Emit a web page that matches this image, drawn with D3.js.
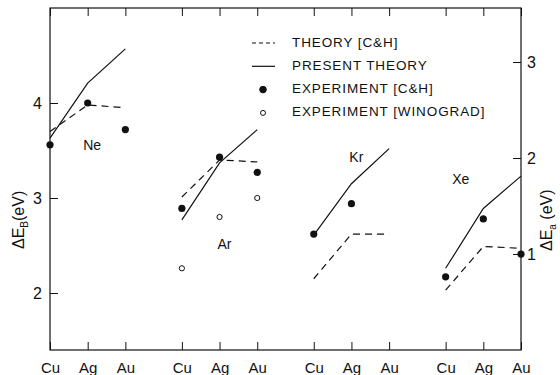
<!DOCTYPE html>
<html>
<head>
<meta charset="utf-8">
<script src="https://cdn.jsdelivr.net/npm/d3@7"></script>
<style>
  body { margin: 0; background: #fff; }
  text { font-family: "Liberation Sans", Arial, sans-serif; fill: #111; }
</style>
</head>
<body>
<div id="chart"></div>
<script>
// substrates along x, repeated per rare gas
const metals = ["Cu", "Ag", "Au"]
const gases = ["Ne", "Ar", "Kr", "Xe"]

// binding energy shift, eV (left axis), one row per gas, Cu/Ag/Au
const theoryCH = [
  [3.70, 3.98, 3.95],
  [3.01, 3.40, 3.38],
  [2.15, 2.62, 2.62],
  [2.03, 2.49, 2.47]
]
const presentTheory = [
  [3.63, 4.21, 4.57],
  [2.77, 3.37, 3.72],
  [2.61, 3.15, 3.52],
  [2.26, 2.89, 3.23]
]
const experimentCH = [
  [3.56, 4.00, 3.72],
  [2.89, 3.43, 3.27],
  [2.62, 2.94, null],
  [2.17, 2.78, 2.41]
]
const experimentWinograd = [
  [null, null, null],
  [2.26, 2.80, 3.00],
  [null, null, null],
  [null, null, null]
]

const leftTicks = [2, 3, 4]
const rightTicks = [1, 2, 3]
const legendLabels = ["THEORY [C&H]", "PRESENT THEORY", "EXPERIMENT [C&H]", "EXPERIMENT [WINOGRAD]"]

const width = 560
const height = 375
const margin = { top: 8, right: 39, bottom: 25, left: 50 }
const groupStep = 3.5

const svg = d3.select("#chart")
  .append("svg")
    .attr("width", width)
    .attr("height", height)

// position index: gas g, metal i -> g * 3.5 + i
const pos = (g, i) => g * groupStep + i
const x = d3.scaleLinear()
  .domain([0, pos(gases.length - 1, metals.length - 1)])
  .range([margin.left, width - margin.right])
const y = d3.scaleLinear()
  .domain([1.4, 5.0])
  .range([height - margin.bottom, margin.top])
const yRight = d3.scaleLinear()
  .domain([0, 3.5625])
  .range([height - margin.bottom, margin.top])

const ink = "#111"
const xLeft = x.range()[0], xRight = x.range()[1]
const yTop = y.range()[1], yBottom = y.range()[0]

// frame
svg.append("rect")
  .attr("x", xLeft).attr("y", yTop)
  .attr("width", xRight - xLeft).attr("height", yBottom - yTop)
  .attr("fill", "none").attr("stroke", ink).attr("stroke-width", 1.2)

// bottom / top category ticks
const catTicks = []
gases.forEach((gas, g) => metals.forEach((m, i) => catTicks.push({ m, p: pos(g, i) })))

const xAxis = svg.append("g")
  .attr("transform", `translate(0,${yBottom})`)
  .call(d3.axisBottom(x).tickValues(catTicks.map(d => d.p)).tickSize(-8).tickPadding(12)
    .tickFormat((d, k) => catTicks[k].m))
xAxis.select(".domain").remove()
xAxis.selectAll("line").attr("stroke", ink)
xAxis.selectAll("text").style("font-size", "15px").attr("fill", ink)

svg.append("g")
  .attr("transform", `translate(0,${yTop})`)
  .call(d3.axisTop(x).tickValues(catTicks.map(d => d.p)).tickSize(-8).tickFormat(""))
  .call(g => g.select(".domain").remove())
  .selectAll("line").attr("stroke", ink)

// left axis
const yAxis = svg.append("g")
  .attr("transform", `translate(${xLeft},0)`)
  .call(d3.axisLeft(y).tickValues(leftTicks).tickSize(-8).tickPadding(8).tickFormat(d3.format("d")))
yAxis.select(".domain").remove()
yAxis.selectAll("line").attr("stroke", ink)
yAxis.selectAll("text").style("font-size", "16px").attr("fill", ink)

// right axis
const yAxisR = svg.append("g")
  .attr("transform", `translate(${xRight},0)`)
  .call(d3.axisRight(yRight).tickValues(rightTicks).tickSize(-8).tickPadding(6).tickFormat(d3.format("d")))
yAxisR.select(".domain").remove()
yAxisR.selectAll("line").attr("stroke", ink)
yAxisR.selectAll("text").style("font-size", "16px").attr("fill", ink)

// axis titles
const lt = svg.append("text")
  .attr("transform", "translate(24,249) rotate(-90)")
  .style("font-size", "16px")
lt.append("tspan").text("\u0394E")
lt.append("tspan").text("B").style("font-size", "10px").attr("dy", 4)
lt.append("tspan").text("(eV)").attr("dy", -4)

const rt = svg.append("text")
  .attr("transform", "translate(552,251) rotate(-90)")
  .style("font-size", "16px")
rt.append("tspan").text("\u0394E")
rt.append("tspan").text("a").style("font-size", "10px").attr("dy", 4)
rt.append("tspan").text(" (eV)").attr("dy", -4)

// series
const line = d3.line()
  .x(d => x(d.p))
  .y(d => y(d.v))

const seriesPoints = (rows, g) => rows[g]
  .map((v, i) => ({ p: pos(g, i), v }))
  .filter(d => d.v != null)

gases.forEach((gas, g) => {
  svg.append("path")
    .datum(seriesPoints(theoryCH, g))
    .attr("d", line)
    .attr("fill", "none").attr("stroke", ink).attr("stroke-width", 1.2)
    .attr("stroke-dasharray", "7,5")

  svg.append("path")
    .datum(seriesPoints(presentTheory, g))
    .attr("d", line)
    .attr("fill", "none").attr("stroke", ink).attr("stroke-width", 1.2)

  svg.selectAll(null)
    .data(seriesPoints(experimentCH, g))
    .join("circle")
      .attr("cx", d => x(d.p)).attr("cy", d => y(d.v))
      .attr("r", 3.6).attr("fill", ink)

  svg.selectAll(null)
    .data(seriesPoints(experimentWinograd, g))
    .join("circle")
      .attr("cx", d => x(d.p)).attr("cy", d => y(d.v))
      .attr("r", 2.6).attr("fill", "#fff").attr("stroke", ink).attr("stroke-width", 1)
})

// gas names, placed in data units inside each group
const gasLabelAt = [[1.12, 3.54], [1.13, 2.50], [1.13, 3.42], [0.40, 3.19]]
gases.forEach((gas, g) => {
  svg.append("text")
    .attr("x", x(g * groupStep + gasLabelAt[g][0]))
    .attr("y", y(gasLabelAt[g][1]))
    .attr("text-anchor", "middle")
    .attr("dominant-baseline", "middle")
    .style("font-size", "14px")
    .text(gas)
})

// legend
const legend = svg.append("g").attr("transform", "translate(252,43)")
const rowGap = 23.3
legendLabels.forEach((label, k) => {
  const row = legend.append("g").attr("transform", `translate(0,${k * rowGap})`)
  if (k < 2) {
    row.append("line")
      .attr("x1", 0).attr("x2", 23)
      .attr("stroke", ink).attr("stroke-width", 1.2)
      .attr("stroke-dasharray", k === 0 ? "4,3" : null)
  } else {
    row.append("circle")
      .attr("cx", 11).attr("r", k === 2 ? 3.3 : 2.5)
      .attr("fill", k === 2 ? ink : "#fff")
      .attr("stroke", ink).attr("stroke-width", 1)
  }
  row.append("text")
    .attr("x", 40)
    .attr("dominant-baseline", "middle")
    .style("font-size", "13.5px")
    .style("letter-spacing", "0.9px")
    .text(label)
})
</script>
</body>
</html>
